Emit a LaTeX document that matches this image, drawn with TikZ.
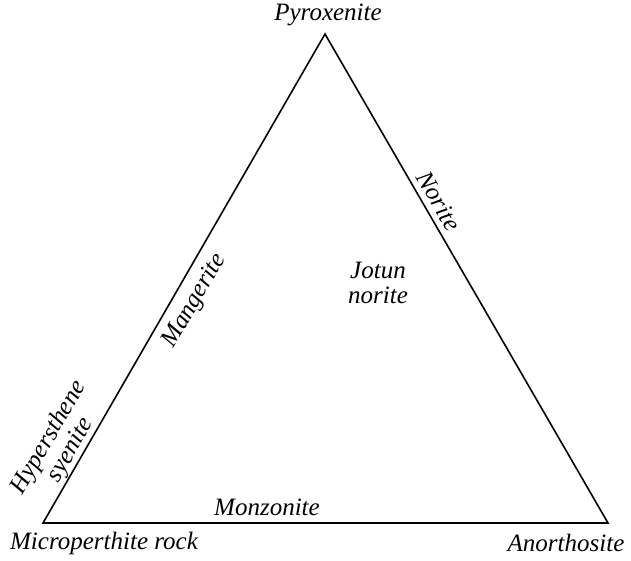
\documentclass[tikz,border=0pt]{standalone}
\usepackage{fontspec}
\setmainfont{Liberation Serif}
\begin{document}
\begin{tikzpicture}[x=1pt,y=-1pt,
  lbl/.style={font=\fontsize{25}{25}\selectfont\itshape, inner sep=0pt, align=center},
  edge/.style={line width=1.6pt, line join=miter}]
\useasboundingbox (0,0) rectangle (631,560);
\coordinate (A) at (325,34);
\coordinate (L) at (43,523);
\coordinate (R) at (608,523);
\draw[edge] (A) -- (L) -- (R) -- cycle;
\node[lbl] (pyr) at (328,15) {Pyroxenite};
\node[lbl, rotate=-60] (nor) at (439,201) {Norite};
\node[lbl, rotate=60] (man) at (195,301) {Mangerite};
\node[lbl, rotate=60] (hyp) at (60,444) {Hypersthene\\syenite};
\node[lbl] (jot) at (378,283) {Jotun\\norite};
\node[lbl] (mon) at (267,507) {Monzonite};
\node[lbl] (mic) at (104,543) {Microperthite rock};
\node[lbl] (ano) at (566,543) {Anorthosite};
\end{tikzpicture}
\end{document}
